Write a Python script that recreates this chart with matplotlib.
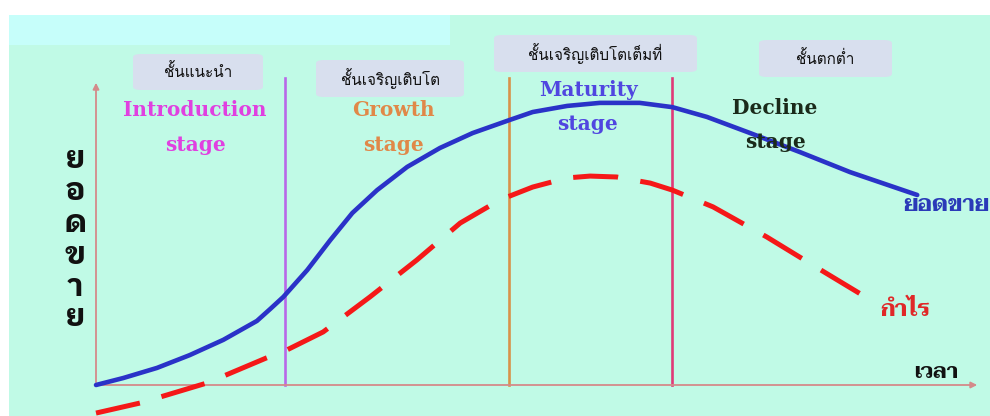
import matplotlib
matplotlib.use("Agg")
import matplotlib.pyplot as plt
from matplotlib import font_manager
from matplotlib.patches import Rectangle, FancyBboxPatch

# --- data (time 0..10, value 0..100) ---
sales_t = [0, 0.31, 0.69, 1.06, 1.44, 1.82, 1.97, 2.12, 2.39, 2.65, 2.90, 3.18, 3.52,
           3.89, 4.26, 4.68, 4.94, 5.33, 5.70, 6.15, 6.52, 6.91, 7.40, 7.96, 8.53, 9.29]
sales_v = [0, 2.3, 5.6, 9.8, 14.8, 21.0, 24.9, 28.9, 37.7, 47.5, 56.4, 63.9, 71.5,
           77.7, 82.6, 86.9, 89.5, 91.5, 92.5, 92.5, 91.1, 87.9, 82.6, 76.4, 69.8, 62.3]

profit_t = [0, 0.50, 1.26, 1.93, 2.16, 2.57, 3.10, 3.63, 4.12, 4.57, 4.94, 5.33,
            5.59, 5.89, 6.27, 6.52, 6.98, 7.59, 8.16, 8.76]
profit_v = [-9.2, -5.9, 0.7, 8.9, 11.5, 17.4, 28.9, 41.0, 53.1, 60.7, 64.9, 67.9,
            68.5, 68.2, 66.2, 63.9, 58.4, 48.5, 38.4, 27.9]

stage_bounds = [2.14, 4.67, 6.52]
stage_colors = ["#b868e8", "#d8924a", "#e03a78"]

stage_thai = ["ชั้นแนะนำ", "ชั้นเจริญเติบโต", "ชั้นเจริญเติบโตเต็มที่", "ชั้นตกต่ำ"]
stage_eng = [("Introduction", "stage"), ("Growth", "stage"), ("Maturity", "stage"), ("Decline", "stage")]
stage_eng_colors = ["#e040e0", "#e08848", "#5046e0", "#1a2a1a"]

# fonts that can draw Thai
installed = {f.name for f in font_manager.fontManager.ttflist}


def pick(prefs):
    for p in prefs:
        if p in installed:
            return p
    return "DejaVu Sans"


box_font = pick(["Loma", "Sarabun", "Noto Sans Thai Looped"])
heavy_font = pick(["IBM Plex Sans Thai Looped", "Loma", "Noto Sans Thai Looped"])
serif_font = pick(["Taviraj", "Trirong", "Noto Serif Thai"])

W, H = 990, 416
fig = plt.figure(figsize=(W / 100, H / 100), dpi=100)
fig.patch.set_facecolor("white")


def fx(px):
    return px / W


def fy(py):
    return 1 - py / H


# backgrounds
fig.add_artist(Rectangle((fx(9), 0), 1 - fx(9), fy(15), transform=fig.transFigure,
                         fc="#c0fae6", ec="none", zorder=0))
fig.add_artist(Rectangle((fx(9), fy(45)), fx(450) - fx(9), fy(15) - fy(45),
                         transform=fig.transFigure, fc="#c6fefa", ec="none", zorder=0))

ax = fig.add_axes([0, 0, 1, 1])
ax.set_facecolor("none")
ax.set_xlim(-96 / 88.4, (W - 96) / 88.4)
ax.set_ylim((385 - H) / 3.05, 385 / 3.05)
ax.axis("off")

# axes with arrows
axis_color = "#d48a8a"
ax.annotate("", xy=(10.0, 0), xytext=(0, 0),
            arrowprops=dict(arrowstyle="-|>", color=axis_color, lw=1.3, mutation_scale=9))
ax.annotate("", xy=(0, 100), xytext=(0, 0),
            arrowprops=dict(arrowstyle="-|>", color=axis_color, lw=1.3, mutation_scale=9))

for x, c in zip(stage_bounds, stage_colors):
    ax.plot([x, x], [0, 100.5], color=c, lw=1.9, zorder=2)

ax.plot(sales_t, sales_v, color="#2a32c8", lw=3.3, solid_capstyle="round",
        solid_joinstyle="round", zorder=3)
ax.plot(profit_t, profit_v, color="#f51818", lw=3.6, dashes=(9, 4.5), zorder=3)

# thai stage boxes
boxes = [(133, 54, 263, 90), (316, 60, 464, 97), (494, 35, 697, 72), (759, 40, 892, 77)]
for (x0, y0, x1, y1), label in zip(boxes, stage_thai):
    fig.add_artist(FancyBboxPatch((fx(x0), fy(y1)), fx(x1) - fx(x0), fy(y0) - fy(y1),
                                  boxstyle="round,pad=0,rounding_size=0.008",
                                  transform=fig.transFigure, fc="#d8dfee", ec="none", zorder=1))
    fig.text(fx((x0 + x1) / 2), fy((y0 + y1) / 2), label, ha="center", va="center",
             fontsize=11, family=[box_font, "DejaVu Sans"], color="#111111")

# english stage labels, two lines each
eng_pos = [(195, 110, 143), (393, 110, 143), (588, 90, 122), (775, 108, 140)]
for (px, py1, py2), (l1, l2), c in zip(eng_pos, stage_eng, stage_eng_colors):
    fig.text(fx(px), fy(py1), l1, ha="center", va="center", fontsize=14.5,
             family="DejaVu Serif", fontweight="bold", color=c)
    fig.text(fx(px), fy(py2), l2, ha="center", va="center_baseline", fontsize=14.5,
             family="DejaVu Serif", fontweight="bold", color=c)

# vertical thai axis label, one glyph per row
for ch, py in zip("ยอดขาย", [160, 192, 224, 256, 287, 317]):
    fig.text(fx(75), fy(py), ch, ha="center", va="center", fontsize=23,
             family=[heavy_font, "DejaVu Sans"], fontweight="bold", color="#111111")

fig.text(fx(903), fy(206), "ยอดขาย", ha="left", va="center", fontsize=16,
         family=[serif_font, "DejaVu Sans"], fontweight="bold", color="#2a3ab8")
fig.text(fx(880), fy(311), "กำไร", ha="left", va="center", fontsize=16.5,
         family=[serif_font, "DejaVu Sans"], fontweight="bold", color="#e02828")
fig.text(fx(914), fy(373), "เวลา", ha="left", va="center", fontsize=15,
         family=[serif_font, "DejaVu Sans"], fontweight="bold", color="#111111")

fig.savefig("out.png", dpi=100)
